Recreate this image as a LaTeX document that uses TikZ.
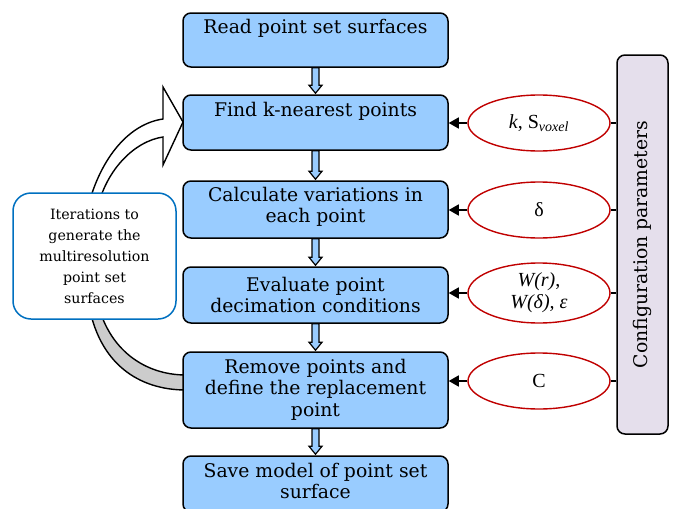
\documentclass[tikz,border=0pt]{standalone}
\usepackage{fontspec}
\setmainfont{DejaVu Serif}
\newfontfamily\elfont{Liberation Serif}
\usetikzlibrary{shapes.geometric,arrows.meta,calc}
\definecolor{boxblue}{RGB}{153,204,255}
\definecolor{pred}{RGB}{192,0,0}
\definecolor{cblue}{RGB}{0,112,192}
\definecolor{cfgfill}{RGB}{229,223,236}
\definecolor{bandgrey}{RGB}{204,204,204}
\newcommand\blockarr[2]{%
  \draw[varrow] ($(#1.south)+(-3.5,0)$) -- ($(#2.north)+(-3.5,-9)$) -- ($(#2.north)+(-6.5,-9)$)
    -- ($(#2.north)+(0,-1)$) -- ($(#2.north)+(6.5,-9)$) -- ($(#2.north)+(3.5,-9)$)
    -- ($(#1.south)+(3.5,0)$) -- cycle;}
\begin{document}
\begin{tikzpicture}[x=1pt,y=-1pt,
  stepbox/.style={draw=black,line width=1.5pt,fill=boxblue,rounded corners=8pt,minimum width=265pt,inner sep=0pt},
  steptext/.style={font=\fontsize{18.8}{21.5}\selectfont,align=center,inner sep=0pt},
  param/.style={ellipse,draw=pred,line width=1.4pt,fill=white,minimum width=142pt,minimum height=56pt,inner sep=0pt,font=\elfont\fontsize{20}{22}\selectfont,align=center},
  varrow/.style={draw=black,line width=1.2pt,fill=boxblue},
  parr/.style={line width=1.4pt,-{Triangle[length=10pt,width=11pt]}},
  band/.style={draw=black,line width=1.4pt},
  callout/.style={draw=cblue,line width=1.5pt,fill=white,rounded corners=18pt,minimum width=163pt,minimum height=126pt,inner sep=0pt,align=center,font=\fontsize{14.2}{21}\selectfont},
  cfgbox/.style={draw=black,line width=1.5pt,fill=cfgfill,rounded corners=8pt,minimum width=51pt,minimum height=379pt,inner sep=0pt}]
\useasboundingbox (0,0) rectangle (673,509);
% curved iteration arrow
\draw[band,fill=white] (86,215) .. controls (98,160) and (128,124) .. (163,119) -- (163,87) -- (183,122)
  -- (163,165) -- (163,137) .. controls (135,141) and (104,170) .. (96,215) -- cycle;
\draw[band,fill=bandgrey] (88,300) .. controls (98,365) and (140,390) .. (186,390) -- (186,375)
  .. controls (145,375) and (108,350) .. (97,300) -- cycle;
\node[callout] (it) at (94.5,256) {Iterations to\\generate the\\multiresolution\\point set\\surfaces};
% step boxes
\node[stepbox,minimum height=54pt] (b1) at (315.5,40) {};
\node[stepbox,minimum height=55pt] (b2) at (315.5,122.5) {};
\node[stepbox,minimum height=57pt] (b3) at (315.5,209.5) {};
\node[stepbox,minimum height=56pt] (b4) at (315.5,295) {};
\node[stepbox,minimum height=76pt] (b5) at (315.5,390) {};
\node[stepbox,minimum height=56pt] (b6) at (315.5,484) {};
\node[steptext] (t1) at (315.5,28) {Read point set surfaces};
\node[steptext] (t2) at (315.5,111) {Find k-nearest points};
\node[steptext] (t3) at (315.5,207) {Calculate variations in\\each point};
\node[steptext] (t4) at (315.5,295) {Evaluate point\\decimation conditions};
\node[steptext] (t5) at (315.5,389.5) {Remove points and\\define the replacement\\point};
\node[steptext] (t6) at (315.5,481) {Save model of point set\\surface};
\blockarr{b1}{b2}
\blockarr{b2}{b3}
\blockarr{b3}{b4}
\blockarr{b4}{b5}
\blockarr{b5}{b6}
% configuration
\node[cfgbox] (cfg) at (642.5,244.5) {};
\node[rotate=90,inner sep=0pt,font=\fontsize{18.8}{20}\selectfont] (cfgt) at (cfg.center) {Configuration parameters};
\node[param] (e1) at (539,123) {\textit{k}, S\textsubscript{\textit{voxel}}};
\node[param] (e2) at (539,210) {δ};
\node[param,minimum height=60pt] (e3) at (539,293) {\textit{W(r)},\\\textit{W(δ), ε}};
\node[param] (e4) at (539,381) {C};
\foreach \e/\b in {e1/b2,e2/b3,e3/b4,e4/b5}{
  \draw[parr] (\e.west) -- (\e.west -| \b.east);
  \draw[line width=1.4pt] (\e.east) -- (\e.east -| cfg.west);
}
\end{tikzpicture}
\end{document}
